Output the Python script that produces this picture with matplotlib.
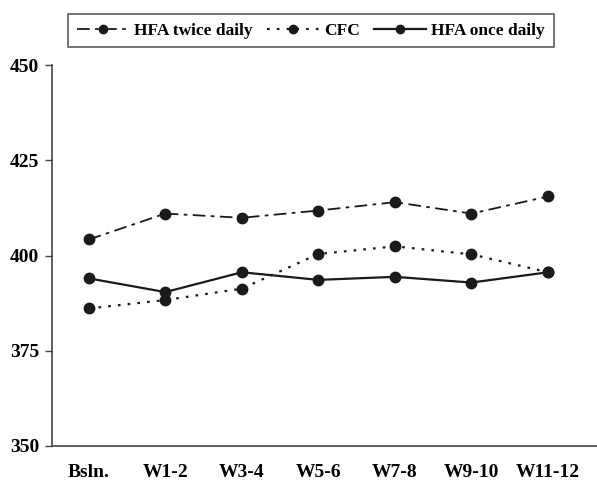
import matplotlib
matplotlib.use("Agg")
import matplotlib.pyplot as plt

categories = ["Bsln.", "W1-2", "W3-4", "W5-6", "W7-8", "W9-10", "W11-12"]
hfa_twice = [404.2, 411.0, 409.9, 411.8, 414.0, 411.0, 415.5]
cfc = [386.1, 388.3, 391.3, 400.4, 402.4, 400.3, 395.6]
hfa_once = [394.0, 390.4, 395.6, 393.6, 394.4, 392.9, 395.6]
yticks = [350, 375, 400, 425, 450]

plt.rcParams['font.family'] = ['Liberation Serif', 'DejaVu Serif']
plt.rcParams['font.weight'] = 'bold'

fig = plt.figure(figsize=(5.97, 4.83), dpi=100)
ax = fig.add_axes([52/597, 1-446/483, (597-52)/597, (446-65)/483])

x = list(range(len(categories)))
c = '#1a1a1a'
ax.plot(x, hfa_twice, color=c, lw=1.3, ls=(0, (7, 3, 2, 3)), marker='o', ms=7.5, label='HFA twice daily')
ax.plot(x, cfc, color=c, lw=1.6, ls=(0, (1.2, 3.2)), marker='o', ms=7.5, label='CFC')
ax.plot(x, hfa_once, color=c, lw=1.6, ls='-', marker='o', ms=7.5, label='HFA once daily')

ax.set_xlim(-0.48, 6.64)
ax.set_ylim(350, 450)
ax.set_yticks(yticks)
ax.set_xticks(x)
ax.set_xticklabels(categories, fontsize=14, fontweight='bold')
ax.tick_params(axis='x', length=0, pad=13)
ax.tick_params(axis='y', length=5, width=1, color='#444444', labelsize=14, pad=4)
for lab in ax.get_yticklabels():
    lab.set_fontweight('bold')
for s in ['top', 'right']:
    ax.spines[s].set_visible(False)
for s in ['left', 'bottom']:
    ax.spines[s].set_color('#444444')
    ax.spines[s].set_linewidth(1.2)

leg = ax.legend(loc='center', bbox_to_anchor=((67+555)/2/597, 1-30.5/483), bbox_transform=fig.transFigure,
                ncol=3, frameon=True, fancybox=False, edgecolor='#333333',
                prop={'family': 'Liberation Serif', 'weight': 'bold', 'size': 12.5},
                handlelength=3.0, handletextpad=0.3, columnspacing=0.8, borderpad=0.5)
leg.get_frame().set_linewidth(1.2)
for h in leg.legend_handles:
    h.set_markersize(6)

fig.savefig('out.png', dpi=100)
